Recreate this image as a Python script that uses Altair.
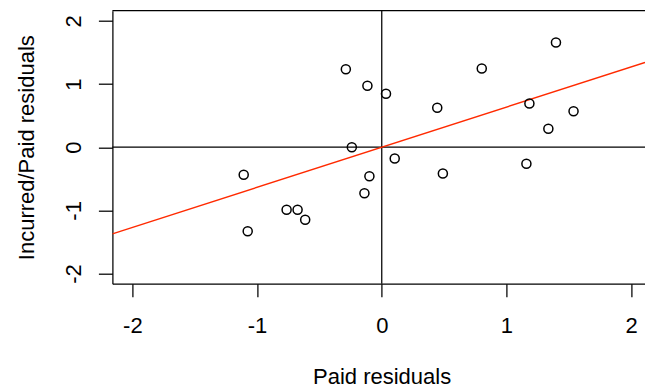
import altair as alt
import pandas as pd

# Residual pairs: paid residuals (x) vs incurred/paid residuals (y)
paid_resid = [-1.107, -1.075, -0.763, -0.675, -0.614, -0.240, -0.139, -0.099,
              0.104, -0.288, -0.115, 0.034, 0.445, 0.490, 0.802, 1.160,
              1.184, 1.336, 1.397, 1.538]
inc_paid_resid = [-0.437, -1.329, -0.990, -0.990, -1.149, 0.000, -0.728, -0.459,
                  -0.179, 1.234, 0.971, 0.845, 0.623, -0.416, 1.245, -0.263,
                  0.691, 0.291, 1.657, 0.570]

# Fitted line through the origin
fit_slope = 0.635
fit_intercept = 0.0

tick_values = [-2, -1, 0, 1, 2]

x_dom = [-2.16, 2.111]
y_dom = [-2.16, 2.16]

W, H = 532.6, 273.0
LEFT, TOP = 112.4, 10.7
FONT = "Liberation Sans"
FS = 22
LW = 1.25

pts = pd.DataFrame({"x": paid_resid, "y": inc_paid_resid})
fit = pd.DataFrame({"x": x_dom,
                    "y": [fit_intercept + fit_slope * v for v in x_dom]})

xs = alt.Scale(domain=x_dom, nice=False, zero=False)
ys = alt.Scale(domain=y_dom, nice=False, zero=False)

# plain hyphen-minus in tick labels
label_expr = "'' + datum.value"

x_axis = alt.Axis(values=tick_values, labelExpr=label_expr, title="Paid residuals",
                  tickSize=13, labelPadding=35.5, labelBaseline="alphabetic",
                  titleX=381.6 - LEFT, titleY=99.5,
                  titleBaseline="alphabetic", titleAlign="center")
y_axis = alt.Axis(values=tick_values, labelExpr=label_expr,
                  title="Incurred/Paid residuals",
                  tickSize=14, labelPadding=18, labelAngle=270,
                  labelAlign="center", labelBaseline="alphabetic",
                  titleAngle=270, titleX=33.3 - LEFT, titleY=H / 2,
                  titleBaseline="alphabetic", titleAlign="center")

points = alt.Chart(pts).mark_point(
    shape="circle", filled=False, size=82, strokeWidth=1.5,
    color="black", opacity=1
).encode(
    x=alt.X("x:Q", scale=xs, axis=x_axis),
    y=alt.Y("y:Q", scale=ys, axis=y_axis),
)

fit_line = alt.Chart(fit).mark_line(color="#ff2a00", strokeWidth=1.4, clip=True).encode(
    x=alt.X("x:Q", scale=xs), y=alt.Y("y:Q", scale=ys)
)

h_zero = alt.Chart(pd.DataFrame({"y": [0]})).mark_rule(color="black", strokeWidth=LW).encode(
    y=alt.Y("y:Q", scale=ys)
)
v_zero = alt.Chart(pd.DataFrame({"x": [0]})).mark_rule(color="black", strokeWidth=LW).encode(
    x=alt.X("x:Q", scale=xs)
)
top_border = alt.Chart(pd.DataFrame({"k": [0]})).mark_rule(color="black", strokeWidth=LW).encode(
    y=alt.value(0), x=alt.value(0), x2=alt.value(W)
)

chart = alt.layer(h_zero, v_zero, fit_line, points, top_border).properties(
    width=W, height=H,
    autosize=alt.AutoSizeParams(type="none"),
    padding={"left": LEFT, "top": TOP, "right": 0, "bottom": 387 - TOP - H},
    background="white",
).configure_view(stroke=None).configure_axis(
    grid=False, domainColor="black", domainWidth=LW, tickColor="black", tickWidth=LW,
    labelColor="black", titleColor="black", labelFont=FONT, titleFont=FONT,
    labelFontSize=FS, titleFontSize=FS, titleFontWeight="normal",
)

chart.save("out.html", embed_options={"renderer": "svg", "actions": False})
